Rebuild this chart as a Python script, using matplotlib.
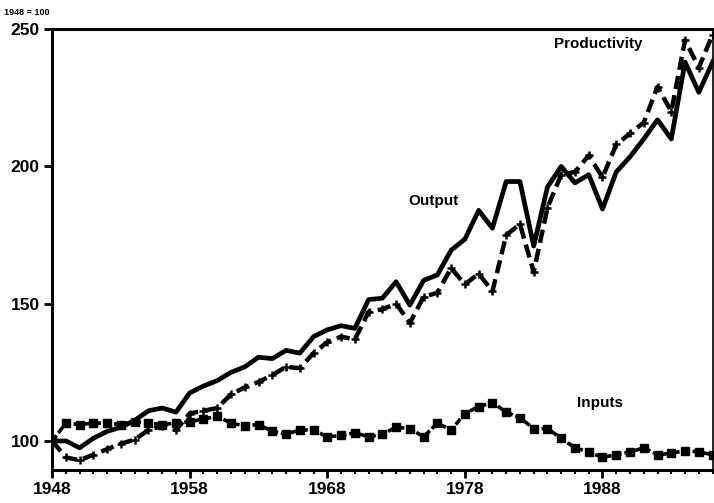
import numpy as np
import matplotlib
matplotlib.use('Agg')
import matplotlib.pyplot as plt
from matplotlib.ticker import MultipleLocator

plt.rcParams['font.family'] = ['Liberation Sans', 'DejaVu Sans']
plt.rcParams['font.weight'] = 'bold'

# index values, 1948 = 100
years = np.arange(1948, 1997)

output = [100, 100, 97.5, 101, 103.5, 105, 107.5, 111, 112, 110.5,
          117.5, 120, 122, 125, 127, 130.5, 130, 133, 132, 138,
          140.5, 142, 141, 151.5, 152, 158, 149.5, 158.5, 160.5, 169.5,
          173.5, 184, 177.5, 194.5, 194.5, 171, 192.5, 200, 194, 197,
          184.5, 198, 203.5, 210, 217, 210, 238, 227, 238]

productivity = [100, 94, 93, 95, 97, 99, 100.5, 104, 105.5, 104,
                110, 111, 112, 117, 119.5, 121.5, 124, 127, 126.5, 132,
                136, 138, 137, 147, 148, 150, 143, 152.5, 154, 163,
                157, 161, 154.5, 175, 179, 161.5, 185, 197, 198, 204,
                196, 208, 212, 216, 229, 220, 246, 236, 248]

inputs = [100, 106.5, 106, 106.5, 106.5, 106, 107, 106.5, 106, 106.5,
          107, 108, 109, 106.5, 105.5, 106, 103.5, 102.5, 104, 104,
          101.5, 102, 103, 101.5, 102.5, 105, 104.5, 101.5, 106.5, 104,
          110, 112.5, 114, 110.5, 108.5, 104.5, 104.5, 101, 97.5, 96,
          94, 95, 96, 97.5, 95, 95.5, 96.5, 96, 95]

fig = plt.figure(figsize=(7.14, 5.03), dpi=100)
ax = fig.add_axes([0.073, 0.066, 0.925, 0.876])

ax.plot(years, output, color='black', linewidth=3.4, solid_joinstyle='round')
ax.plot(years, productivity, color='black', linewidth=3.2, linestyle=(0, (3, 1.4)),
        marker='+', markersize=6, markeredgewidth=1.8)
ax.plot(years, inputs, color='black', linewidth=2.6, linestyle=(0, (2, 0.8)),
        marker='s', markersize=6)

ax.set_xlim(1948, 1996)
ax.set_ylim(89.5, 250)

ax.set_xticks([1948, 1958, 1968, 1978, 1988])
ax.xaxis.set_minor_locator(MultipleLocator(1))
ax.set_yticks([100, 150, 200, 250])

ax.tick_params(axis='both', which='major', direction='out', length=6, width=2,
               labelsize=12.5, pad=3)
ax.tick_params(axis='x', which='minor', direction='out', length=3, width=1.5)
for lab in ax.get_xticklabels() + ax.get_yticklabels():
    lab.set_fontweight('bold')

for side in ['left', 'bottom', 'top']:
    ax.spines[side].set_linewidth(2.2)
ax.spines['right'].set_linewidth(1.2)

ax.text(1975.7, 187.5, 'Output', fontsize=11, fontweight='bold', ha='center', va='center')
ax.text(1987.7, 244.5, 'Productivity', fontsize=11, fontweight='bold', ha='center', va='center')
ax.text(1987.8, 114, 'Inputs', fontsize=11, fontweight='bold', ha='center', va='center')
fig.text(0.006, 0.985, '1948 = 100', fontsize=6.5, fontweight='bold', ha='left', va='top')

plt.savefig('out.png', dpi=100)
